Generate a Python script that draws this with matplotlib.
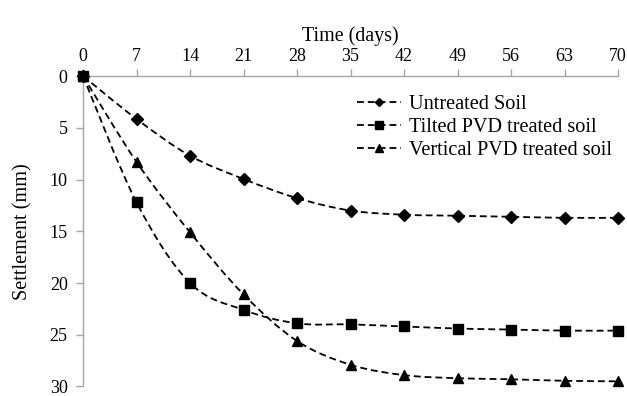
import matplotlib
matplotlib.use('Agg')
import matplotlib.pyplot as plt
from matplotlib.path import Path
from matplotlib.patches import PathPatch
from matplotlib.lines import Line2D
import numpy as np

plt.rcParams['font.family'] = ['Liberation Serif', 'DejaVu Serif']

# 数据
days = [0, 7, 14, 21, 28, 35, 42, 49, 56, 63, 70]
untreated = [0, 4.15, 7.7, 9.95, 11.8, 13.0, 13.4, 13.5, 13.6, 13.7, 13.7]
tilted = [0, 12.2, 20.0, 22.6, 23.9, 24.0, 24.2, 24.4, 24.5, 24.6, 24.6]
vertical = [0, 8.3, 15.1, 21.1, 25.6, 27.9, 28.9, 29.2, 29.3, 29.45, 29.5]

labels = ['Untreated Soil', 'Tilted PVD treated soil', 'Vertical PVD treated soil']
markers = ['D', 's', '^']
msizes = [6, 7, 7.5]
series = [untreated, tilted, vertical]

DASH = (0, (3.8, 2.2))
GREY = '#a6a6a6'


def smooth_path(x, y):
    """Excel 风格平滑曲线 (Catmull-Rom -> Bezier)"""
    p = np.column_stack([x, y]).astype(float)
    n = len(p)
    verts = [p[0]]
    codes = [Path.MOVETO]
    for i in range(n - 1):
        p0 = p[i - 1] if i > 0 else p[i]
        p3 = p[i + 2] if i + 2 < n else p[i + 1]
        c1 = p[i] + (p[i + 1] - p0) / 6.0
        c2 = p[i + 1] - (p3 - p[i]) / 6.0
        verts += [c1, c2, p[i + 1]]
        codes += [Path.CURVE4] * 3
    return Path(verts, codes)


fig = plt.figure(figsize=(6.27, 3.96), dpi=100)
ax = fig.add_axes([0.1324, 0.024, 0.8533, 0.784])

handles = []
for ys, m, ms, lab in zip(series, markers, msizes, labels):
    patch = PathPatch(smooth_path(days, ys), fill=False, edgecolor='black',
                      lw=1.3, linestyle=DASH, zorder=2, clip_on=False)
    ax.add_patch(patch)
    ax.plot(days, ys, linestyle='none', marker=m, ms=ms, color='black',
            zorder=3, clip_on=False)
    handles.append(Line2D([], [], color='black', lw=1.3, linestyle=DASH,
                          marker=m, ms=ms - 1.5))

ax.set_xlim(0, 70)
ax.set_ylim(30, 0)
ax.set_xticks(days)
ax.set_yticks(range(0, 31, 5))

ax.xaxis.set_ticks_position('top')
ax.xaxis.set_label_position('top')
ax.spines['right'].set_visible(False)
ax.spines['bottom'].set_visible(False)
for s in ['top', 'left']:
    ax.spines[s].set_color(GREY)
    ax.spines[s].set_linewidth(1.0)
ax.tick_params(axis='both', colors=GREY, labelcolor='black', labelsize=13,
               length=5, width=1.0)
ax.tick_params(axis='x', pad=3)
ax.tick_params(axis='y', pad=6)

ax.set_xlabel('Time (days)', fontsize=14.4, labelpad=5)
ax.set_ylabel('Settlement (mm)', fontsize=14.6, labelpad=12)

ax.legend(handles, labels, loc='upper right', bbox_to_anchor=(1.012, 0.98),
          frameon=False, fontsize=14.6, handlelength=2.2, handletextpad=0.4,
          labelspacing=0.2, borderaxespad=0.2)

fig.savefig('out.png', dpi=100)
